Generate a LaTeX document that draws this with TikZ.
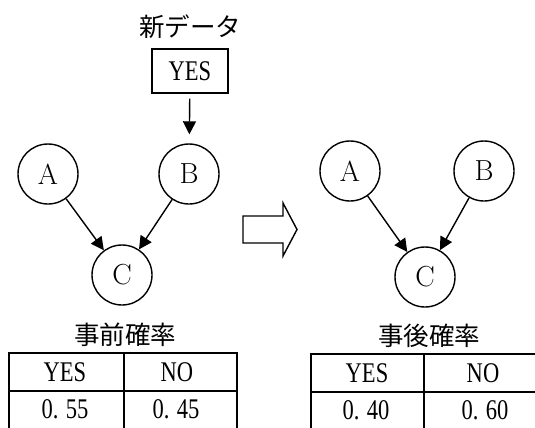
\documentclass[tikz,border=0pt]{standalone}
\usepackage{fontspec}
\newfontfamily\jp{Noto Sans CJK JP}
\newfontfamily\cond[FakeStretch=0.79]{Liberation Serif}
\usetikzlibrary{arrows.meta}
\tikzset{
 circ/.style={circle, draw, line width=1.4pt, minimum size=60pt, inner sep=0pt, font=\fontsize{29}{32}\selectfont},
 jptext/.style={font=\jp\fontsize{25.5}{30}\selectfont, inner sep=0pt},
 celltext/.style={font=\cond\fontsize{28.5}{30}\selectfont, inner sep=0pt},
 databox/.style={draw, line width=1.4pt, minimum width=76pt, minimum height=44pt, inner sep=0pt},
 arr/.style={line width=1.4pt, -{Triangle[length=13pt,width=13pt]}},
 tbl/.style={line width=1.8pt},
}
\begin{document}
\begin{tikzpicture}[x=1pt,y=-1pt]
\useasboundingbox (0,0) rectangle (535,428);
% left graph
\node[jptext] (newdata) at (190,27) {新データ};
\node[databox, celltext] (yesbox) at (190,71) {YES};
\node[circ] (A1) at (48,174) {A};
\node[circ] (B1) at (189,174) {B};
\node[circ] (C1) at (122,275) {C};
\draw[arr, shorten <=5pt, shorten >=9pt] (yesbox) -- (B1);
\draw[arr] (A1) -- (C1);
\draw[arr] (B1) -- (C1);
% transition arrow
\draw[line width=1.4pt] (243,216) -- (283,216) -- (283,203) -- (297,229.5) -- (283,256) -- (283,243) -- (243,243) -- cycle;
% right graph
\node[circ] (A2) at (350,171) {A};
\node[circ] (B2) at (484,171) {B};
\node[circ] (C2) at (425,277) {C};
\draw[arr] (A2) -- (C2);
\draw[arr] (B2) -- (C2);
% left table
\node[jptext] (prior) at (125,335) {事前確率};
\draw[tbl] (9,353) -- (237,353);
\draw[tbl] (9,391) -- (237,391);
\draw[tbl] (9,352.1) -- (9,428);
\draw[tbl] (124,352.1) -- (124,428);
\draw[tbl] (237,352.1) -- (237,428);
\node[celltext] (pyes) at (65,372) {YES};
\node[celltext] (pno) at (177,372) {NO};
\node[celltext] (pv1) at (65,409) {0. 55};
\node[celltext] (pv2) at (176,409) {0. 45};
% right table
\node[jptext] (post) at (429,336) {事後確率};
\draw[tbl] (311,354) -- (535,354);
\draw[tbl] (311,392) -- (535,392);
\draw[tbl] (311,353.1) -- (311,428);
\draw[tbl] (424,353.1) -- (424,428);
\node[celltext] (qyes) at (367,373) {YES};
\node[celltext] (qno) at (483,373) {NO};
\node[celltext] (qv1) at (366,410) {0. 40};
\node[celltext] (qv2) at (485,410) {0. 60};
\end{tikzpicture}
\end{document}
